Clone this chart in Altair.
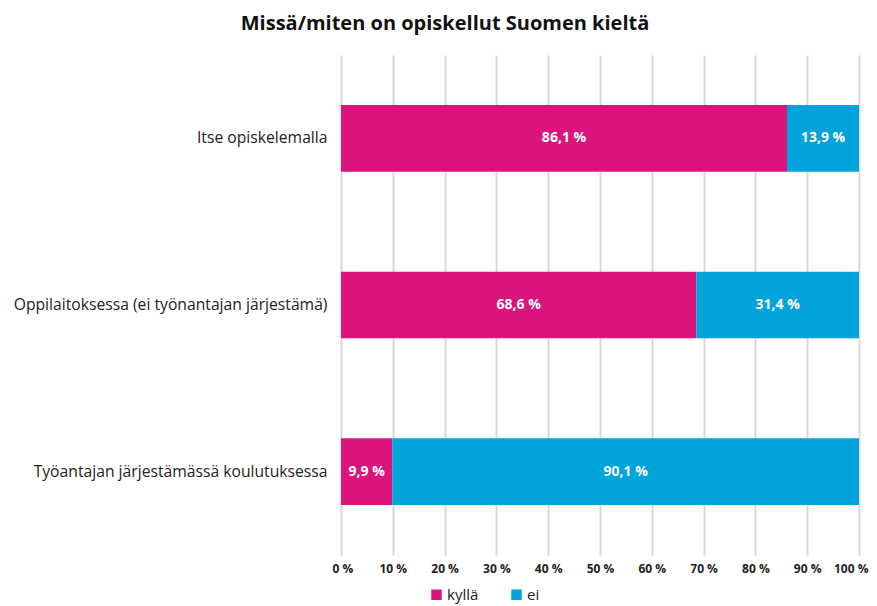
import altair as alt
import pandas as pd

categories = ["Itse opiskelemalla",
              "Oppilaitoksessa (ei työnantajan järjestämä)",
              "Työantajan järjestämässä koulutuksessa"]
series = ["kyllä", "ei"]
kylla = [86.1, 68.6, 9.9]
ei = [13.9, 31.4, 90.1]
ticks = [0, 10, 20, 30, 40, 50, 60, 70, 80, 90, 100]

rows = []
for i, c in enumerate(categories):
    rows.append({"cat": c, "series": "kyllä", "ord": 0, "v": kylla[i]})
    rows.append({"cat": c, "series": "ei", "ord": 1, "v": ei[i]})
df = pd.DataFrame(rows)

FONT = "Open Sans"
colors = ["#DA137D", "#00A4DA"]

base = alt.Chart(df).transform_stack(
    stack="v", groupby=["cat"], as_=["x0", "x1"],
    sort=[alt.SortField("ord", order="ascending")]
).transform_calculate(
    mid="(datum.x0 + datum.x1) / 2",
    lab="replace(format(datum.v, '.1f'), '.', ',') + ' %'"
)

y_enc = alt.Y("cat:N", sort=categories, title=None,
              scale=alt.Scale(paddingInner=0.6, paddingOuter=0.3),
              axis=alt.Axis(domain=False, ticks=False, labelFontSize=15.7,
                            labelColor="#222222", labelPadding=14,
                            labelFont=FONT, labelLimit=400))

bars = base.mark_bar().encode(
    x=alt.X("x0:Q", title=None,
            scale=alt.Scale(domain=[0, 100], nice=False),
            axis=alt.Axis(values=ticks, labelExpr="datum.value + ' %'",
                          domain=False, ticks=False, grid=True,
                          gridColor="#d9d9d9", gridWidth=2,
                          labelFontSize=12, labelFontWeight="bold",
                          labelColor="#222222", labelPadding=8,
                          labelFlush=True, labelFlushOffset=9,
                          labelFont=FONT)),
    x2="x1:Q",
    y=y_enc,
    color=alt.Color("series:N", sort=series,
                    scale=alt.Scale(domain=series, range=colors),
                    legend=alt.Legend(title=None, orient="none",
                                      direction="horizontal",
                                      legendX=88, legendY=532,
                                      symbolType="square", symbolSize=110,
                                      symbolStrokeWidth=0,
                                      labelFontSize=15, labelFont=FONT,
                                      labelColor="#222222",
                                      columnPadding=30, gridAlign="all",
                                      labelOffset=3)),
)

texts = base.mark_text(color="white", fontWeight="bold", fontSize=14,
                       font=FONT).encode(
    x=alt.X("mid:Q"),
    y=alt.Y("cat:N", sort=categories),
    text="lab:N",
)

chart = (bars + texts).properties(
    width=518, height=500,
    autosize=alt.AutoSizeParams(type="none"),
    padding={"left": 333, "top": 47, "right": 10, "bottom": 52},
    title=alt.Title("Missä/miten on opiskellut Suomen kieltä",
                    fontSize=20, fontWeight="bold", font=FONT,
                    color="#111111", anchor="middle", dx=-155, offset=21),
).configure_view(stroke=None)

chart.save("out.html", embed_options={"renderer": "svg", "actions": False})
